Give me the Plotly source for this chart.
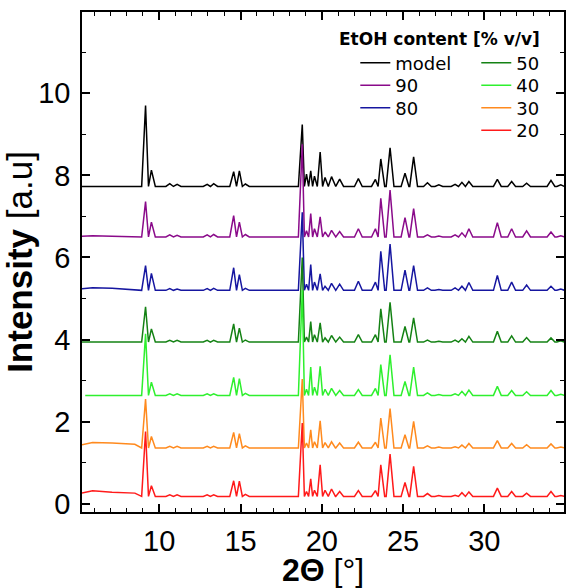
import plotly.graph_objects as go

# ---------------- data ----------------
SERIES = ["model", "90", "80", "50", "40", "30", "20"]
OFFSETS = [7.73, 6.50, 5.20, 3.94, 2.64, 1.36, 0.18]   # baseline level of each stacked pattern
START_X = [5.25, 5.25, 5.25, 5.25, 5.45, 5.25, 5.25]   # first 2θ of each pattern
END_X = 35.0

# reflections (2θ, degrees)
PEAK_POS = [9.16, 9.52, 10.65, 11.1, 12.95, 13.35, 14.58, 14.93, 15.3,
            18.8, 19.06, 19.32, 19.55, 19.9, 20.2, 20.6, 21.1, 22.25,
            23.3, 23.63, 24.2, 25.12, 25.65, 26.5, 27.2, 28.2, 28.62,
            29.05, 30.8, 31.68, 32.6, 34.1, 34.7]

# peak heights above the baseline
H_MODEL = [1.97, 0.40, 0.07, 0.05, 0.05, 0.07, 0.36, 0.38, 0.06, 1.51, 0.30, 0.38, 0.25, 0.84, 0.22, 0.24, 0.18,
           0.19, 0.17, 0.67, 0.94, 0.32, 0.72, 0.09, 0.04, 0.05, 0.10, 0.12, 0.17, 0.12, 0.08, 0.15, 0.04]
H_90 = [0.86, 0.36, 0.05, 0.04, 0.05, 0.06, 0.52, 0.36, 0.06, 2.26, 0.15, 0.57, 0.20, 0.49, 0.12, 0.16, 0.13,
        0.20, 0.20, 0.94, 1.14, 0.47, 0.69, 0.05, 0.02, 0.05, 0.10, 0.20, 0.35, 0.20, 0.15, 0.12, 0.03]
H_80 = [0.60, 0.41, 0.04, 0.03, 0.04, 0.05, 0.55, 0.38, 0.05, 1.90, 0.15, 0.63, 0.20, 0.40, 0.10, 0.17, 0.15,
        0.22, 0.20, 0.95, 1.13, 0.49, 0.60, 0.06, 0.02, 0.06, 0.10, 0.19, 0.36, 0.20, 0.13, 0.10, 0.03]
H_50 = [0.86, 0.32, 0.04, 0.04, 0.04, 0.04, 0.44, 0.34, 0.05, 2.06, 0.12, 0.50, 0.18, 0.47, 0.10, 0.16, 0.12,
        0.18, 0.18, 0.81, 0.97, 0.38, 0.59, 0.05, 0.02, 0.05, 0.08, 0.14, 0.26, 0.15, 0.11, 0.10, 0.03]
H_40 = [1.50, 0.32, 0.04, 0.04, 0.04, 0.04, 0.44, 0.41, 0.05, 2.56, 0.15, 0.69, 0.20, 0.71, 0.15, 0.17, 0.12,
        0.14, 0.17, 0.75, 0.99, 0.34, 0.69, 0.06, 0.02, 0.04, 0.10, 0.13, 0.22, 0.12, 0.09, 0.12, 0.03]
H_30 = [1.19, 0.28, 0.04, 0.04, 0.04, 0.04, 0.38, 0.35, 0.05, 1.68, 0.12, 0.44, 0.15, 0.66, 0.13, 0.15, 0.12,
        0.14, 0.14, 0.73, 0.96, 0.32, 0.65, 0.05, 0.02, 0.03, 0.07, 0.11, 0.18, 0.11, 0.08, 0.10, 0.02]
H_20 = [1.58, 0.26, 0.04, 0.04, 0.04, 0.04, 0.38, 0.37, 0.05, 1.79, 0.12, 0.43, 0.15, 0.77, 0.15, 0.18, 0.12,
        0.14, 0.14, 0.77, 1.03, 0.34, 0.73, 0.07, 0.02, 0.03, 0.09, 0.11, 0.20, 0.12, 0.08, 0.12, 0.02]
HEIGHTS = [H_MODEL, H_90, H_80, H_50, H_40, H_30, H_20]

# low-angle background (relative to baseline) at these 2θ
BASE_X = [5.9, 7.1, 8.5]
B_MODEL = [0.00, 0.00, 0.00]
B_90 = [0.03, 0.02, 0.00]
B_80 = [0.06, 0.05, 0.02]
B_50 = [0.00, 0.00, 0.00]
B_40 = [0.00, 0.00, 0.00]
B_30 = [0.13, 0.12, 0.09]
B_20 = [0.14, 0.10, 0.08]
BACKGROUNDS = [B_MODEL, B_90, B_80, B_50, B_40, B_30, B_20]

COLORS = ["#000000", "#8a0a8a", "#1616a0", "#148214", "#2ef02e", "#ff8a1e", "#ff1a1a"]

MAX_HW = 0.24

# legend layout: one single-entry legend per series (two columns)
LEG_X = [0.567, 0.567, 0.567, 0.818, 0.818, 0.818, 0.818]
LEG_Y = [0.898, 0.853, 0.808, 0.898, 0.853, 0.808, 0.763]


def pattern(offset, heights, bg, x0):
    pts = [(x0, offset + bg[0] * 0.6), (END_X, offset)]
    for bx, bv in zip(BASE_X, bg):
        pts.append((bx, offset + bv))
    n = len(PEAK_POS)
    for i, p in enumerate(PEAK_POS):
        wl = MAX_HW if i == 0 else min(MAX_HW, (p - PEAK_POS[i - 1]) / 2)
        wr = MAX_HW if i == n - 1 else min(MAX_HW, (PEAK_POS[i + 1] - p) / 2)
        pts += [(p - wl, offset), (p, offset + heights[i]), (p + wr, offset)]
    pts.sort(key=lambda t: t[0])
    return [t[0] for t in pts], [t[1] for t in pts]


LEGFONT = dict(family="DejaVu Sans, sans-serif", size=18, color="black")

fig = go.Figure()
legends = {}
for k, (name, off, h, bg, x0, col) in enumerate(zip(SERIES, OFFSETS, HEIGHTS, BACKGROUNDS, START_X, COLORS)):
    xs, ys = pattern(off, h, bg, x0)
    lg = "legend" if k == 0 else f"legend{k + 1}"
    fig.add_trace(go.Scatter(x=xs, y=ys, mode="lines", name=name, legend=lg, showlegend=True,
                             line=dict(color=col, width=1.5)))
    legends[lg] = dict(x=LEG_X[k], y=LEG_Y[k], xanchor="left", yanchor="middle", font=LEGFONT,
                       bgcolor="rgba(0,0,0,0)", itemwidth=30, visible=True)

TICKFONT = dict(family="Liberation Sans, Arial, sans-serif", size=29, color="black")
YTITLEFONT = dict(family="Liberation Sans, Arial, sans-serif", size=35, color="black")
XTITLEFONT = dict(family="Liberation Sans, Arial, sans-serif", size=32, color="black")

fig.update_layout(
    width=566, height=588,
    margin=dict(l=82, r=0, t=12, b=76),
    paper_bgcolor="white", plot_bgcolor="white",
    showlegend=True,
    annotations=[dict(text="<b>EtOH content [% v/v]</b>", x=0.741, y=0.946, xref="paper", yref="paper",
                      xanchor="center", yanchor="middle", showarrow=False,
                      font=dict(family="DejaVu Sans, sans-serif", size=17, color="black"))],
    **legends,
)
fig.update_xaxes(range=[5.25, 34.9], tickmode="linear", tick0=0, dtick=5,
                 ticks="inside", ticklen=8, tickwidth=1.5, tickcolor="black",
                 minor=dict(tickmode="linear", tick0=0, dtick=1, ticks="inside", ticklen=4, tickwidth=1.2,
                            tickcolor="black"),
                 showline=True, linewidth=1.5, linecolor="black", mirror="ticks",
                 showgrid=False, zeroline=False, tickfont=TICKFONT, ticklabelstandoff=2,
                 title=dict(text="<b>2Θ</b> [°]", font=XTITLEFONT, standoff=6))
fig.update_yaxes(range=[-0.2, 11.98], tickmode="linear", tick0=0, dtick=2,
                 ticks="inside", ticklen=8, tickwidth=1.5, tickcolor="black",
                 minor=dict(tickmode="linear", tick0=0, dtick=1, ticks="inside", ticklen=4, tickwidth=1.2,
                            tickcolor="black"),
                 showline=True, linewidth=1.5, linecolor="black", mirror="ticks",
                 showgrid=False, zeroline=False, tickfont=TICKFONT, ticklabelstandoff=4,
                 title=dict(text="<b>Intensity</b> [a.u]", font=YTITLEFONT, standoff=0))

fig.write_html("out.html")
